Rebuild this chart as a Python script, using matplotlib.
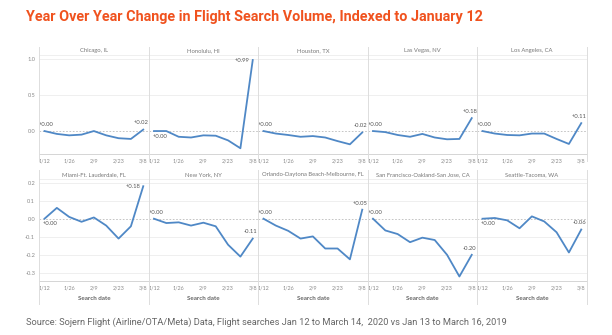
import numpy as np
import matplotlib.pyplot as plt
from matplotlib.lines import Line2D

# Dados (variação semanal indexada a 12/jan)
dates = ['1/12', '1/19', '1/26', '2/2', '2/9', '2/16', '2/23', '3/1', '3/8']
tick_dates = ['1/12', '1/26', '2/9', '2/23', '3/8']

top_cities = ['Chicago, IL', 'Honolulu, HI', 'Houston, TX', 'Las Vegas, NV', 'Los Angeles, CA']
bottom_cities = ['Miami-Ft. Lauderdale, FL', 'New York, NY', 'Orlando-Daytona Beach-Melbourne, FL',
                 'San Francisco-Oakland-San Jose, CA', 'Seattle-Tacoma, WA']

chicago = [0.00, -0.04, -0.06, -0.05, 0.00, -0.06, -0.10, -0.11, 0.02]
honolulu = [0.00, 0.00, -0.08, -0.09, -0.06, -0.065, -0.13, -0.24, 0.99]
houston = [0.00, -0.035, -0.055, -0.08, -0.07, -0.09, -0.14, -0.185, -0.02]
las_vegas = [0.00, -0.015, -0.055, -0.08, -0.04, -0.09, -0.115, -0.11, 0.18]
los_angeles = [0.00, -0.035, -0.055, -0.06, -0.035, -0.035, -0.11, -0.18, 0.11]
miami = [0.00, 0.06, 0.01, -0.017, 0.007, -0.038, -0.11, -0.042, 0.18]
new_york = [0.00, -0.024, -0.02, -0.038, -0.022, -0.042, -0.144, -0.21, -0.11]
orlando = [0.00, -0.038, -0.067, -0.11, -0.098, -0.165, -0.165, -0.225, 0.05]
san_francisco = [0.00, -0.065, -0.085, -0.13, -0.105, -0.118, -0.20, -0.32, -0.20]
seattle = [0.00, 0.004, -0.009, -0.053, 0.013, -0.015, -0.075, -0.187, -0.06]

top_values = [chicago, honolulu, houston, las_vegas, los_angeles]
bottom_values = [miami, new_york, orlando, san_francisco, seattle]

# posição dos rótulos: 'above', 'below', 'left'
top_label_pos = [('above', 'above'), ('below', 'left'), ('above', 'above'), ('above', 'above'), ('above', 'above')]
bottom_label_pos = [('below', 'left'), ('above', 'above'), ('above', 'above'), ('above', 'above'), ('below', 'above')]

W, H = 612, 335
fig = plt.figure(figsize=(W / 100, H / 100), dpi=100)

line_color = '#4f88c6'
grid_color = '#ececec'
text_gray = '#8a8a8a'
x = np.arange(len(dates))
tick_idx = [dates.index(d) for d in tick_dates]

left0, pw = 39.3, 109.5


def fmt(v):
    s = f'{v:+.2f}'
    return '+0.00' if s == '-0.00' else s


def label(ax, xi, v, where, dx):
    txt = fmt(v)
    kw = dict(textcoords='offset points', fontsize=4.2, color='#555555', family='Lato')
    if where == 'above':
        ax.annotate(txt, (xi, v), xytext=(dx, 3), ha='center', va='bottom', **kw)
    elif where == 'below':
        ax.annotate(txt, (xi, v), xytext=(-1, -2), ha='left', va='top', **kw)
    else:
        ax.annotate(txt, (xi, v), xytext=(-2, 0), ha='right', va='center', **kw)


def draw_row(cities, values, label_pos, top_px, bottom_px, ylim, yticks, ylabels, xlabel):
    for i, (city, vals) in enumerate(zip(cities, values)):
        l = left0 + i * pw
        ax = fig.add_axes([l / W, 1 - bottom_px / H, pw / W, (bottom_px - top_px) / H])
        for t in yticks:
            if t != 0:
                ax.axhline(t, color=grid_color, lw=0.6, zorder=0)
        ax.axhline(0, color='#bbbbbb', lw=0.6, ls=(0, (2, 2)), zorder=1)
        ax.plot(x, vals, color=line_color, lw=1.3, zorder=3)
        ax.set_xlim(-0.42, 8.45)
        ax.set_ylim(*ylim)
        ax.set_xticks(tick_idx)
        ax.set_xticklabels(tick_dates, fontsize=3.9, color=text_gray, family='Lato')
        ax.set_yticks(yticks)
        if i == 0:
            ax.set_yticklabels(ylabels, fontsize=4.1, color=text_gray, family='Lato')
        else:
            ax.set_yticklabels([])
        ax.tick_params(length=0, pad=3)
        for s in ['left', 'right']:
            ax.spines[s].set_visible(False)
        ax.spines['top'].set_color(grid_color)
        ax.spines['top'].set_linewidth(0.6)
        ax.spines['bottom'].set_color('#d5d5d5')
        ax.spines['bottom'].set_linewidth(0.7)
        ax.set_facecolor('none')
        if xlabel:
            ax.set_xlabel('Search date', fontsize=4.5, color='#666666', family='Lato',
                          fontweight='bold', labelpad=4)
        fig.text((l + pw / 2) / W, 1 - (top_px - 4.5) / H, city, ha='center', va='center',
                 fontsize=4.2, color='#777777', family='Lato')
        label(ax, 0, vals[0], label_pos[i][0], 1.5)
        label(ax, 8, vals[-1], label_pos[i][1], -1.5)


draw_row(top_cities, top_values, top_label_pos, 55, 154, (-0.32, 1.06),
         [0.0, 0.5, 1.0], ['0.0', '0.5', '1.0'], False)
draw_row(bottom_cities, bottom_values, bottom_label_pos, 179, 281, (-0.345, 0.22),
         [-0.3, -0.2, -0.1, 0.0, 0.1, 0.2], ['-0.3', '-0.2', '-0.1', '0.0', '0.1', '0.2'], True)

# linhas verticais separando os painéis
for i in range(6):
    xx = (left0 + i * pw) / W
    for y0, y1 in [(47, 161), (170, 304)]:
        fig.add_artist(Line2D([xx, xx], [1 - y0 / H, 1 - y1 / H], color='#dddddd', lw=0.7))

fig.text(26 / W, 1 - 17 / H, 'Year Over Year Change in Flight Search Volume, Indexed to January 12',
         ha='left', va='center', fontsize=10.4, color='#f0521e', family='Roboto', fontweight='bold')
fig.text(26 / W, 1 - 322 / H,
         'Source: Sojern Flight (Airline/OTA/Meta) Data, Flight searches Jan 12 to March 14,  2020 vs Jan 13 to March 16, 2019',
         ha='left', va='center', fontsize=6.7, color='#666666', family='Roboto')

fig.savefig('out.png', dpi=100, facecolor='white')
